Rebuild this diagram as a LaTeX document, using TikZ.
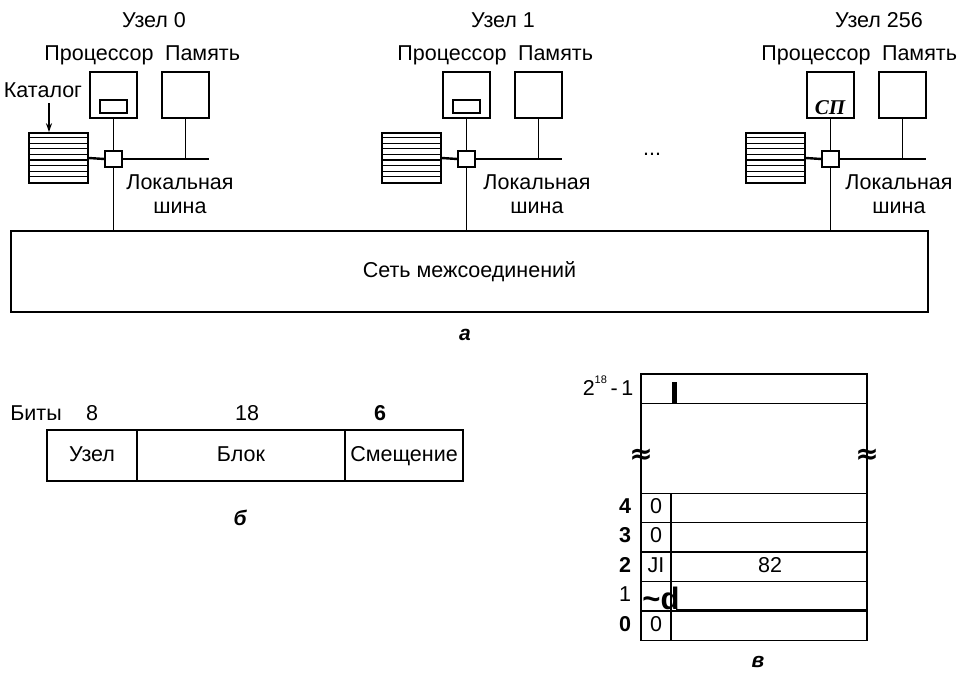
\documentclass[tikz,border=0pt]{standalone}
\usepackage{fontspec}
\setmainfont{Liberation Sans}
\newfontfamily\serifc{Liberation Serif}
\newfontfamily\dejavu{DejaVu Sans}
\usetikzlibrary{arrows.meta}
\tikzset{
  lbl/.style={inner sep=0pt, outer sep=0pt, font=\fontsize{21.5}{25}\selectfont, text height=15.5pt, text depth=4.5pt},
  lbltwo/.style={inner sep=0pt, align=center, font=\fontsize{21.5}{24}\selectfont},
  unitbox/.style={draw, line width=1.4pt, minimum width=47pt, minimum height=46pt, inner sep=0pt},
  innerbox/.style={draw, line width=1.4pt, minimum width=27pt, minimum height=13pt, inner sep=0pt},
  switchbox/.style={draw, line width=1.2pt, minimum width=17pt, minimum height=16pt, inner sep=0pt, fill=white},
  catalogbox/.style={draw, line width=1.6pt, minimum width=59pt, minimum height=50pt, inner sep=0pt},
  stripe/.style={line width=1.1pt},
  busline/.style={line width=2.4pt},
  wire/.style={line width=1pt},
  frame/.style={draw, line width=1.4pt, inner sep=0pt, outer sep=0pt},
  partcap/.style={inner sep=0pt, font=\fontsize{21}{24}\selectfont\bfseries\itshape},
  approx/.style={inner sep=0pt, font=\fontsize{28}{30}\selectfont\dejavu\bfseries},
}
\begin{document}
\begin{tikzpicture}[x=1pt,y=-1pt]
\useasboundingbox (0,0) rectangle (957,673);

% interconnection network
\node[frame, lbl, minimum width=917pt, minimum height=81pt] (net) at (469.5,271.5) {Сеть межсоединений};
\node[partcap] (capa) at (465,335) {а};

% nodes
\foreach \i/\dx/\tx/\bx/\name in {0/0/154/180/0, 1/353/503/537/1, 2/717/879/899/256}{
  \node[lbl] (t\i) at (\tx,22) {Узел \name};
  \node[lbl] (pl\i) at (99+\dx,55) {Процессор};
  \node[lbl] (ml\i) at (202.5+\dx,55) {Память};
  \node[unitbox] (p\i) at (113.5+\dx,95) {};
  \node[unitbox] (m\i) at (185.5+\dx,95) {};
  \node[switchbox] (s\i) at (113.5+\dx,159) {};
  \node[catalogbox] (c\i) at (58.5+\dx,158) {};
  \foreach \k in {1,...,8}{
    \draw[stripe] ([yshift=-\k*5.55pt]c\i.north west) -- ([yshift=-\k*5.55pt]c\i.north east);
  }
  \coordinate (b\i) at (209+\dx,159);
  \draw[busline] (s\i.east) -- (b\i);
  \draw[busline] (c\i.east) -- (s\i.west);
  \draw[wire] (p\i.south) -- (s\i.north);
  \draw[wire] (m\i.south) -- (m\i.south |- b\i);
  \draw[wire] (s\i.south) -- (s\i.south |- net.north);
  \node[lbltwo] (lb\i) at (\bx,194) {Локальная\\шина};
}
\node[innerbox] (r0) at (113.5,106.5) {};
\node[innerbox] (r1) at (466.5,106.5) {};
\node[inner sep=0pt, font=\fontsize{21}{24}\selectfont\serifc\bfseries\itshape] (sp) at (830,108) {СП};
\node[lbl] (dots) at (652,150) {...};

% catalog label and arrow
\node[lbl] (kat) at (43,92) {Каталог};
\coordinate (ka) at (49,103);
\draw[line width=1.2pt, -{Stealth[length=9pt,width=6pt]}] (ka) -- (ka |- c0.north);

% part b: address format
\node[lbl] (bits) at (36,415) {Биты};
\node[lbl] (n8) at (92,415) {8};
\node[lbl] (n18) at (247,415) {18};
\node[lbl, font=\fontsize{21.5}{25}\selectfont\bfseries] (n6) at (380,415) {6};
\node[frame, lbl, minimum width=90pt, minimum height=51pt] (fnode) at (92,455.5) {Узел};
\node[frame, lbl, minimum width=208pt, minimum height=51pt, anchor=west] (fblock) at (fnode.east) {Блок};
\node[frame, lbl, minimum width=118pt, minimum height=51pt, anchor=west] (foff) at (fblock.east) {Смещение};
\node[partcap] (capb) at (240,518) {б};

% part c: directory
\tikzset{rowbox/.style={frame, minimum width=226pt, minimum height=29.4pt}}
\node[rowbox] (rt) at (754,388.5) {};
\node[frame, minimum width=226pt, minimum height=90pt, anchor=north] (rg) at (rt.south) {};
\node[rowbox, anchor=north] (r4) at (rg.south) {};
\node[rowbox, anchor=north] (r3) at (r4.south) {};
\node[rowbox, anchor=north] (r2) at (r3.south) {};
\node[rowbox, anchor=north] (rr1) at (r2.south) {};
\node[rowbox, anchor=north] (rr0) at (rr1.south) {};
\coordinate (dv) at (671,0);
\draw[line width=1.2pt] (dv |- r4.north) -- (dv |- rr0.south);
\fill (672,382) rectangle (676.5,403);
\node[lbl] (top) at (608,390) {2\raisebox{0.55em}{\fontsize{11}{12}\selectfont 18}\,-\,1};
\node[approx] (apl) at (641,456) {≈};
\node[approx] (apr) at (867,456) {≈};
\foreach \r/\t/\f in {r4/4/\bfseries, r3/3/\bfseries, r2/2/\bfseries, rr1/1/, rr0/0/\bfseries}{
  \node[lbl, font=\fontsize{21.5}{25}\selectfont\f] (lab\r) at (625,0 |- \r.center) {\t};
}
\node[lbl] (v4) at (656,0 |- r4.center) {0};
\node[lbl] (v3) at (656,0 |- r3.center) {0};
\node[lbl] (v2) at (656,0 |- r2.center) {JI};
\node[lbl] (v82) at (770,0 |- r2.center) {82};
\node[inner sep=0pt, anchor=base, font=\fontsize{31}{32}\selectfont\bfseries] (v1) at (661,609) {\textasciitilde d};
\node[lbl] (v0) at (656,0 |- rr0.center) {0};
\draw[line width=2.4pt] (676,610) -- (867,610);
\node[partcap] (capc) at (758,662) {в};
\end{tikzpicture}
\end{document}
